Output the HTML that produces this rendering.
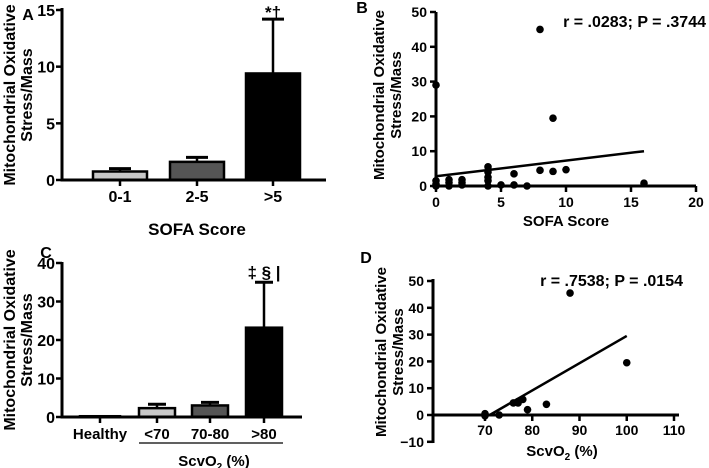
<!DOCTYPE html>
<html><head><meta charset="utf-8"><style>
html,body{margin:0;padding:0;background:#fff}
svg{display:block;font-family:"Liberation Sans",Arial,sans-serif;font-weight:bold}
</style></head><body>
<svg id="fig" width="709" height="468" viewBox="0 0 709 468" xmlns="http://www.w3.org/2000/svg"></svg>
<script>
// Panel A data
const aCats = ["0-1","2-5",">5"];
const aVals = [0.75,1.6,9.4];
const aErrs = [1.0,2.0,14.2];
const aFills = ["#c8c8c8","#555555","#000000"];
const aTicks = [0,5,10,15];
// Panel B data
const bX = [0,0,0,0,1,1,1,2,2,2,4,4,4,4,4,5,6,6,7,8,8,9,9,10,16];
const bY = [29,1.5,0.5,0,0,1,1.8,0.3,1,1.8,0,1.5,2.5,4,5.5,0.3,0.3,3.5,0,45,4.5,19.5,4.2,4.7,0.8];
const bFit = [[0,2.8],[16,10]];
const bXTicks = [0,5,10,15,20];
const bYTicks = [0,10,20,30,40,50];
// Panel C data
const cCats = ["Healthy","<70","70-80",">80"];
const cVals = [0.2,2.3,3.0,23.2];
const cErrs = [null,3.3,3.8,35];
const cFills = ["#ffffff","#c8c8c8","#555555","#000000"];
const cTicks = [0,10,20,30,40];
// Panel D data
const dX = [70,70,73,76,77,77,78,79,83,88,100];
const dY = [0.5,-0.3,0,4.5,4.5,5,5.8,2,4,45.5,19.5];
const dFit = [[71,0],[100,29.5]];
const dXTicks = [70,80,90,100,110];
const dYTicks = [-10,0,10,20,30,40,50];

const NS="http://www.w3.org/2000/svg";
const svg=document.getElementById('fig');
function el(tag,attrs,parent,text){const e=document.createElementNS(NS,tag);for(const k in attrs)e.setAttribute(k,attrs[k]);if(text!==undefined)e.textContent=text;(parent||svg).appendChild(e);return e;}
function grp(name){const g=el('g',{});return g;}
function line(g,x1,y1,x2,y2,w){return el('line',{x1,y1,x2,y2,stroke:'#000','stroke-width':w||3},g);}
function txt(g,x,y,s,size,anchor){return el('text',{x,y,'font-size':size||14,'text-anchor':anchor||'middle'},g,s);}
function ytitle(g,x,cy,size){const t=el('text',{transform:`translate(${x},${cy}) rotate(-90)`,'font-size':size||16,'text-anchor':'middle'},g);
  el('tspan',{x:0,dy:0},t,'Mitochondrial Oxidative');el('tspan',{x:0,dy:17},t,'Stress/Mass');return t;}

// ---------- Panel A ----------
(function(){
const g=grp('panel-a');
const y=v=>180-v*170/15;
const cx=[120,197,273], hw=27;
txt(g,28,20,'A',16);
const yt=ytitle(g,15,95,16);
aCats.forEach((c,i)=>{
  const b=el('rect',{x:cx[i]-hw,y:y(aVals[i]),width:hw*2,height:180-y(aVals[i]),fill:aFills[i],stroke:'#000','stroke-width':2.5},g);
  
  line(g,cx[i],y(aVals[i]),cx[i],y(aErrs[i]),2.5);line(g,cx[i]-11,y(aErrs[i]),cx[i]+11,y(aErrs[i]),3);
  line(g,cx[i],180,cx[i],186,2.5);
  txt(g,cx[i],202,c,16);
});
line(g,62,8,62,181);line(g,60.5,180,326,180);
aTicks.forEach(t=>{line(g,56,y(t),62,y(t),2.5);txt(g,55,y(t)+6,t,16,'end');});
txt(g,197,235,'SOFA Score',17);
txt(g,273,18,'*†',17);
})();

// ---------- Panel B ----------
(function(){
const g=grp('panel-b');
const x=v=>436+v*13, y=v=>186-v*3.48;
txt(g,362,13,'B',16);
ytitle(g,384,95,15);
line(g,436,12,436,187);line(g,434.5,186,696,186);
bXTicks.forEach(t=>{line(g,x(t),186,x(t),192,2.5);txt(g,x(t),207,t,14);});
bYTicks.forEach(t=>{line(g,430,y(t),436,y(t),2.5);txt(g,427,y(t)+5,t,14,'end');});
bX.forEach((v,i)=>{const c=el('circle',{cx:x(v),cy:y(bY[i]),r:3.8,fill:'#000'},g);});
const f=line(g,x(bFit[0][0]),y(bFit[0][1]),x(bFit[1][0]),y(bFit[1][1]),2.5);
txt(g,706,27,'r = .0283; P = .3744',16,'end');
txt(g,566,226,'SOFA Score',15);
})();

// ---------- Panel C ----------
(function(){
const g=grp('panel-c');
const y=v=>417-v*154/40;
const cx=[100,157,210,264], hw=[20,18,18,18];
txt(g,46,258,'C',16);
ytitle(g,15,340,16);
cCats.forEach((c,i)=>{
  const b=el('rect',{x:cx[i]-hw[i],y:y(cVals[i]),width:hw[i]*2,height:417-y(cVals[i]),fill:cFills[i],stroke:'#000','stroke-width':2.5},g);
  
  if(cErrs[i]!==null){line(g,cx[i],y(cVals[i]),cx[i],y(cErrs[i]),2.5);line(g,cx[i]-9,y(cErrs[i]),cx[i]+9,y(cErrs[i]),3);}
  line(g,cx[i],417,cx[i],423,2.5);
  txt(g,cx[i],439,c,15);
});
line(g,62,262,62,418);line(g,60.5,417,302,417);
cTicks.forEach(t=>{line(g,56,y(t),62,y(t),2.5);txt(g,55,y(t)+6,t,16,'end');});
line(g,139,443,283,443,1.2);
const t=el('text',{x:214,y:466,'font-size':15,'text-anchor':'middle'},g,'ScvO');
el('tspan',{'font-size':10,dy:4},t,'2');el('tspan',{dy:-4},t,' (%)');
txt(g,264,278,'‡ § |',17);
})();

// ---------- Panel D ----------
(function(){
const g=grp('panel-d');
const x=v=>485+(v-70)*4.725, y=v=>415-v*2.68;
txt(g,366,263,'D',16);
ytitle(g,386,352,15);
line(g,433,279,433,443);line(g,433,415,679,415);
dXTicks.forEach(t=>{line(g,x(t),415,x(t),421,2.5);txt(g,x(t),435,t,14);});
dYTicks.forEach(t=>{line(g,427,y(t),433,y(t),2.5);txt(g,424,y(t)+5,t===-10?'−10':t,14,'end');});
dX.forEach((v,i)=>{const c=el('circle',{cx:x(v),cy:y(dY[i]),r:3.8,fill:'#000'},g);});
const f=line(g,x(dFit[0][0]),y(dFit[0][1]),x(dFit[1][0]),y(dFit[1][1]),2.5);
txt(g,683,286,'r = .7538; P = .0154',16,'end');
const t=el('text',{x:562,y:456,'font-size':15,'text-anchor':'middle'},g,'ScvO');
el('tspan',{'font-size':10,dy:4},t,'2');el('tspan',{dy:-4},t,' (%)');
})();
</script>
</body></html>
